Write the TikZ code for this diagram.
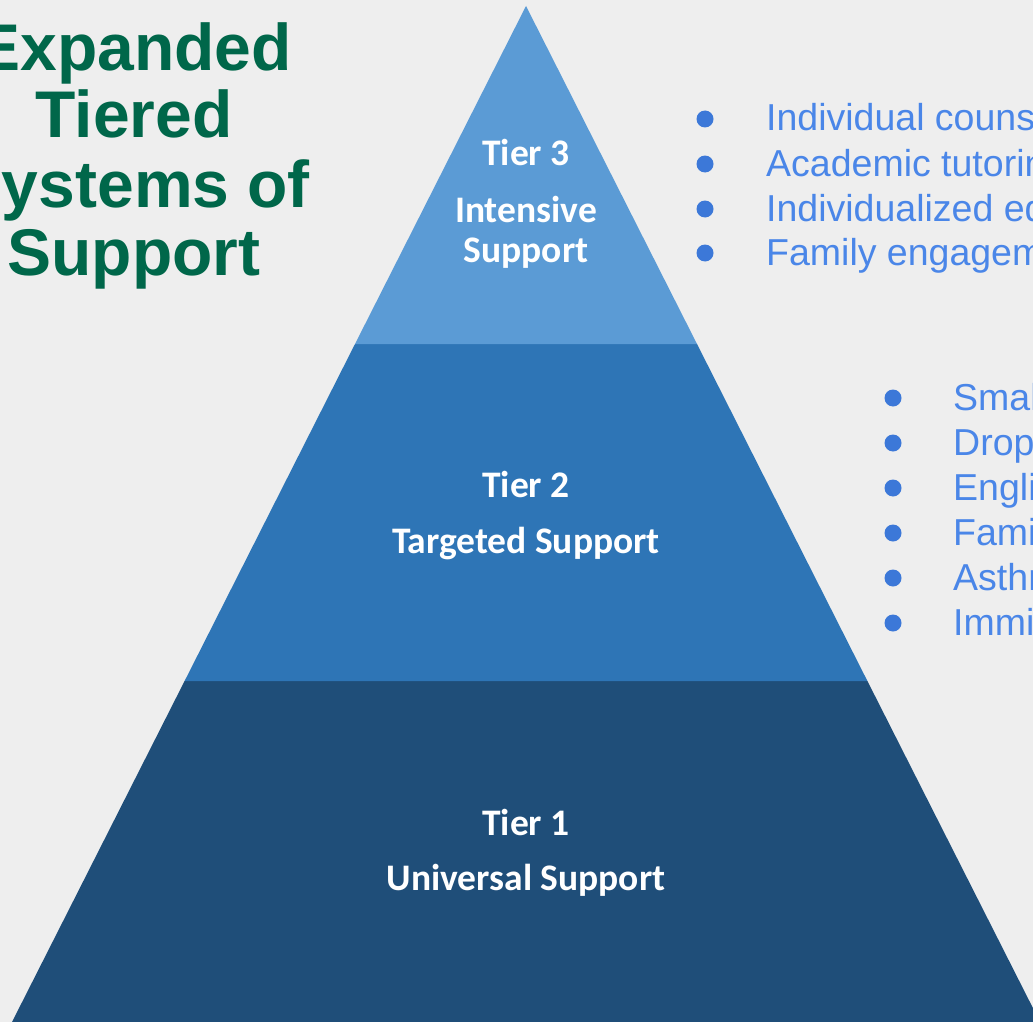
\documentclass[tikz,border=0pt]{standalone}
\usepackage{fontspec}
\setmainfont{Liberation Sans}
\newfontfamily\labelfont{Carlito}
\definecolor{bgcol}{HTML}{EEEEEE}
\definecolor{tierthree}{HTML}{5B9BD5}
\definecolor{tiertwo}{HTML}{2E75B6}
\definecolor{tierone}{HTML}{1F4E79}
\definecolor{titlegreen}{HTML}{00674A}
\definecolor{listblue}{HTML}{4A86E8}
\definecolor{dotblue}{HTML}{3C78D8}
\begin{document}
\begin{tikzpicture}[x=1pt,y=-1pt,
  tierlabel/.style={text=white,inner sep=0pt,anchor=base,
    font=\labelfont\bfseries\fontsize{37.5}{40}\selectfont},
  titleline/.style={text=titlegreen,inner sep=0pt,anchor=base,
    font=\bfseries\fontsize{66}{68}\selectfont},
  listitem/.style={text=listblue,inner sep=0pt,anchor=base west,
    font=\fontsize{37.5}{44}\selectfont},
  bulletdot/.style={circle,fill=dotblue,minimum size=17pt,inner sep=0pt}]
\useasboundingbox (0,0) rectangle (1033,1022);
\clip (0,0) rectangle (1033,1022);
\fill[bgcol] (0,0) rectangle (1033,1022);

% pyramid corners
\coordinate (apex) at (526,6);
\coordinate (l3) at (355,344);   \coordinate (r3) at (697,344);
\coordinate (l2) at (184.6,681); \coordinate (r2) at (867.4,681);
\coordinate (l1) at (12,1022);   \coordinate (r1) at (1040,1022);

% tiers
\fill[tierone]   (l2) -- (r2) -- (r1) -- (l1) -- cycle;
\fill[tiertwo]   (l3) -- (r3) -- (r2) -- (l2) -- cycle;
\fill[tierthree] (apex) -- (r3) -- (l3) -- cycle;

% tier labels
\node[tierlabel] (t3a) at (526,165) {Tier 3};
\node[tierlabel] (t3b) at (526,222) {Intensive};
\node[tierlabel] (t3c) at (526,262) {Support};
\node[tierlabel] (t2a) at (526,497) {Tier 2};
\node[tierlabel] (t2b) at (526,553) {Targeted Support};
\node[tierlabel] (t1a) at (526,835) {Tier 1};
\node[tierlabel] (t1b) at (526,890) {Universal Support};

% heading
\node[titleline] (h1) at (134,71)  {Expanded};
\node[titleline] (h2) at (134,138) {Tiered};
\node[titleline] (h3) at (134,207) {Systems of};
\node[titleline] (h4) at (134,275) {Support};

% tier 3 services
\foreach \y/\txt [count=\i] in {131/Individual counseling,
    176/Academic tutoring,
    221/Individualized education,
    265/Family engagement}{
  \node[bulletdot] (ua\i) at (705,\y-12) {};
  \node[listitem] (sa\i) at (766,\y) {\txt};
}

% tier 2 services
\foreach \y/\txt [count=\i] in {410/Small group,
    455/Dropout,
    500/English,
    545/Family,
    590/Asthma,
    635/Immigrant}{
  \node[bulletdot] (ub\i) at (893,\y-12) {};
  \node[listitem] (sb\i) at (953,\y) {\txt};
}
\end{tikzpicture}
\end{document}
